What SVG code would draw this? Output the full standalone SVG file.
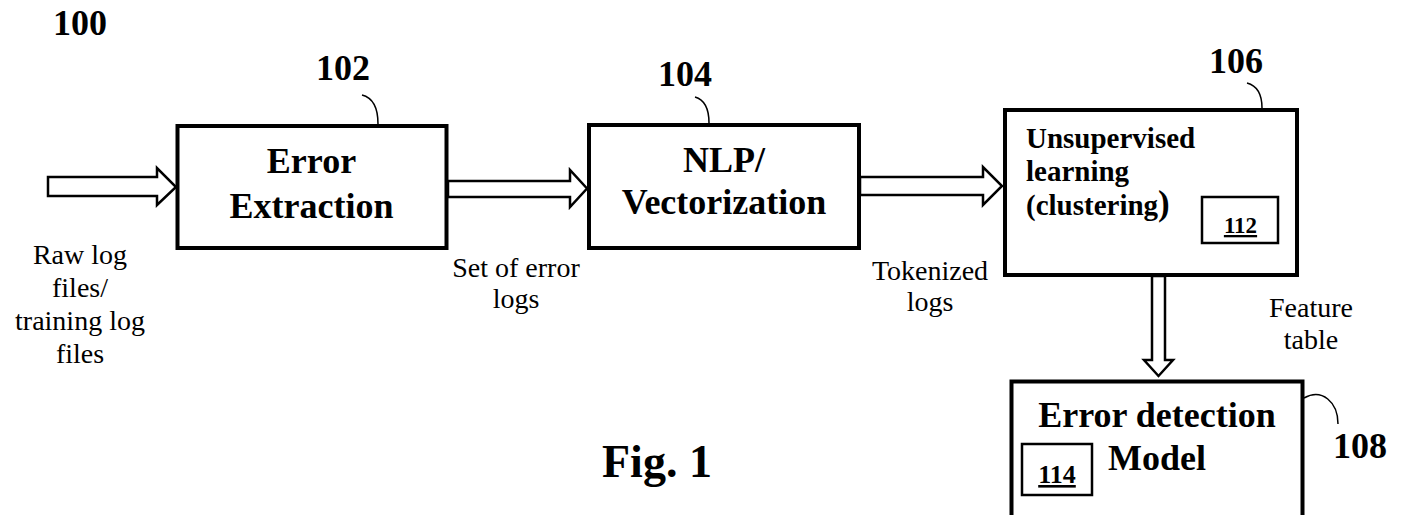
<svg xmlns="http://www.w3.org/2000/svg" width="1407" height="515" viewBox="0 0 1407 515">
<style>
  .box { fill: #fff; stroke: #000; stroke-width: 4; }
  .sub { fill: none; stroke: #000; stroke-width: 2.5; }
  .arrow { fill: #fff; stroke: #000; stroke-width: 2.5; stroke-linejoin: miter; }
  .lead { fill: none; stroke: #000; stroke-width: 1.5; }
  text { font-family: "Liberation Serif", "Times New Roman", serif; fill: #000; }
  .title { font-size: 36px; font-weight: bold; text-anchor: middle; }
  .ref { font-size: 36px; font-weight: bold; }
  .fig { font-size: 46px; font-weight: bold; }
  .lbl { font-size: 28px; text-anchor: middle; }
  .small { font-size: 29px; font-weight: bold; }
  .num { font-weight: bold; text-decoration: underline; text-anchor: middle; }
</style>
<rect width="1407" height="515" fill="#fff"/>

<text class="ref" x="53" y="35">100</text>

<g id="connectors">
  <polygon class="arrow" points="48,177 157,177 157,168 176,187 157,205 157,196 48,196"/>
  <polygon class="arrow" points="448,181 570,181 570,170 587,188.5 570,207 570,197 448,197"/>
  <polygon class="arrow" points="860,177 983,177 983,167 1002,186 983,205 983,195 860,195"/>
  <polygon class="arrow" points="1152,276 1165,276 1165,360 1173,360 1158.5,376 1144,360 1152,360"/>
  <path class="lead" d="M362,95 Q378,99 378,124"/>
  <path class="lead" d="M695,97 Q709,101 709,123"/>
  <path class="lead" d="M1247,83 Q1262,87 1262,108"/>
  <path class="lead" d="M1304,398 C1322,388 1338,402 1338,424"/>
</g>

<g id="input-label">
  <text class="lbl" x="80" y="264">Raw log</text>
  <text class="lbl" x="80" y="297">files/</text>
  <text class="lbl" x="80" y="330">training log</text>
  <text class="lbl" x="80" y="363">files</text>
</g>

<g id="node-102">
  <rect class="box" x="177.5" y="126" width="269" height="122"/>
  <text class="title" x="311.5" y="173">Error</text>
  <text class="title" x="311.5" y="218">Extraction</text>
  <text class="ref" x="316" y="80">102</text>
</g>

<g id="label-error-logs">
  <text class="lbl" x="516" y="277">Set of error</text>
  <text class="lbl" x="516" y="308">logs</text>
</g>

<g id="node-104">
  <rect class="box" x="589" y="125" width="270" height="123"/>
  <text class="title" x="724" y="172">NLP/</text>
  <text class="title" x="724" y="214">Vectorization</text>
  <text class="ref" x="658" y="86">104</text>
</g>

<g id="label-tokenized">
  <text class="lbl" x="930" y="280">Tokenized</text>
  <text class="lbl" x="930" y="311">logs</text>
</g>

<g id="node-106">
  <rect class="box" x="1005" y="110" width="292" height="165"/>
  <text class="small" x="1026" y="148">Unsupervised</text>
  <text class="small" x="1026" y="181">learning</text>
  <text class="small" x="1026" y="215">(clustering<tspan font-size="35">)</tspan></text>
  <text class="ref" x="1209" y="73">106</text>
  <g id="node-112">
    <rect class="sub" x="1202" y="197" width="76" height="46"/>
    <text class="num" x="1240.5" y="233" font-size="23">112</text>
  </g>
</g>

<g id="label-feature">
  <text class="lbl" x="1311" y="317">Feature</text>
  <text class="lbl" x="1311" y="349">table</text>
</g>

<g id="node-108">
  <rect class="box" x="1011.5" y="381.5" width="291" height="150"/>
  <text class="title" x="1157" y="427">Error detection</text>
  <text class="title" x="1157" y="470">Model</text>
  <text class="ref" x="1333" y="458">108</text>
  <g id="node-114">
    <rect class="sub" x="1022" y="444" width="70" height="51"/>
    <text class="num" x="1057" y="483" font-size="26">114</text>
  </g>
</g>

<text class="fig" x="602" y="477">Fig. 1</text>
</svg>
